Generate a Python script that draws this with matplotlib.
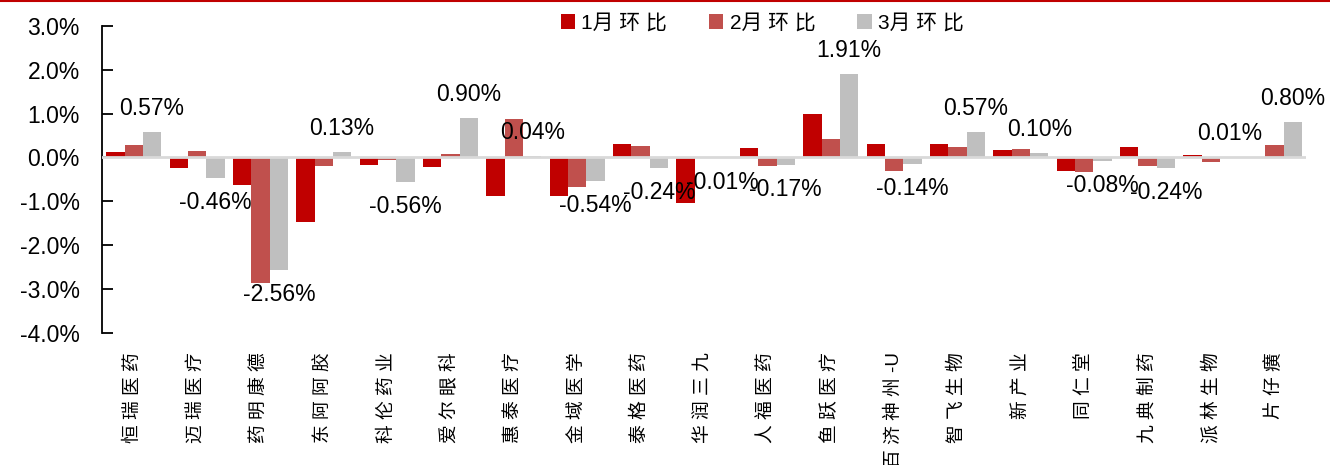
import numpy as np
import matplotlib.pyplot as plt
from matplotlib.ticker import MultipleLocator, FuncFormatter
from matplotlib.lines import Line2D

# company names and month-on-month changes (%)
companies = ['恒瑞医药', '迈瑞医疗', '药明康德', '东阿阿胶', '科伦药业', '爱尔眼科',
             '惠泰医疗', '金域医学', '泰格医药', '华润三九', '人福医药', '鱼跃医疗',
             '百济神州-U', '智飞生物', '新产业', '同仁堂', '九典制药', '派林生物', '片仔癀']
jan = [0.13, -0.25, -0.62, -1.47, -0.18, -0.21, -0.89, -0.89, 0.30, -1.03,
       0.22, 1.00, 0.30, 0.31, 0.17, -0.30, 0.23, 0.06, 0.00]
feb = [0.29, 0.15, -2.85, -0.20, -0.07, 0.08, 0.88, -0.68, 0.26, -0.01,
       -0.20, 0.42, -0.30, 0.23, 0.20, -0.34, -0.20, -0.11, 0.29]
mar = [0.57, -0.46, -2.56, 0.13, -0.56, 0.90, 0.04, -0.54, -0.24, -0.01,
       -0.17, 1.91, -0.14, 0.57, 0.10, -0.08, -0.24, 0.01, 0.80]
series_names = ['1月环比', '2月环比', '3月环比']
colors = ['#C00000', '#C0504D', '#BFBFBF']


def spaced(s):
    # put a little gap after each CJK character, like the original
    out = ''
    for ch in s:
        out += ch + (' ' if ord(ch) > 0x2E80 else '')
    return out.strip()


plt.rcParams['font.family'] = ['Liberation Sans', 'Noto Sans CJK SC', 'DejaVu Sans']

fig = plt.figure(figsize=(13.3, 4.65), dpi=100)
ax = fig.add_axes([0.0767, 0.2839, 0.9053, 0.6608])

x = np.arange(len(companies))
w = 0.29
for k, vals in enumerate([jan, feb, mar]):
    ax.bar(x + (k - 1) * w, vals, w, color=colors[k], label=series_names[k], zorder=2)

ax.axhline(0, color='#D9D9D9', lw=2, zorder=3)

# labels for March values
for i, v in enumerate(mar):
    if v >= 0:
        ax.annotate(f'{v:.2f}%', (x[i] + w, v), xytext=(0, 12), textcoords='offset pixels',
                    ha='center', va='bottom', fontsize=16.5, zorder=5)
    else:
        ax.annotate(f'{v:.2f}%', (x[i] + w, v), xytext=(0, -13), textcoords='offset pixels',
                    ha='center', va='top', fontsize=16.5, zorder=5)

ax.set_ylim(-4, 3)
ax.set_xlim(-0.5, len(companies) - 0.5)
ax.yaxis.set_major_locator(MultipleLocator(1))
ax.yaxis.set_major_formatter(FuncFormatter(lambda v, p: f'{v:.1f}%'))
for s in ['top', 'right', 'bottom']:
    ax.spines[s].set_visible(False)
ax.spines['left'].set_linewidth(1.3)
ax.tick_params(axis='y', direction='in', length=8, width=1.3, pad=16, labelsize=16.5)
ax.tick_params(axis='x', length=0, pad=14)
ax.set_xticks(x)
ax.set_xticklabels([spaced(c) for c in companies], rotation=90, fontsize=13.5, va='top')

leg = fig.legend(ncol=3, loc='center', bbox_to_anchor=(0.573, 0.95), frameon=False,
                 fontsize=15, handlelength=0.7, handleheight=0.7, handletextpad=0.3,
                 columnspacing=2.0)
for t in leg.get_texts():
    t.set_text(spaced(t.get_text()))

# thin red rule across the top
fig.add_artist(Line2D([0, 1], [0.998, 0.998], color='#C00000', lw=1.5, transform=fig.transFigure))

fig.savefig('out.png', dpi=100)
